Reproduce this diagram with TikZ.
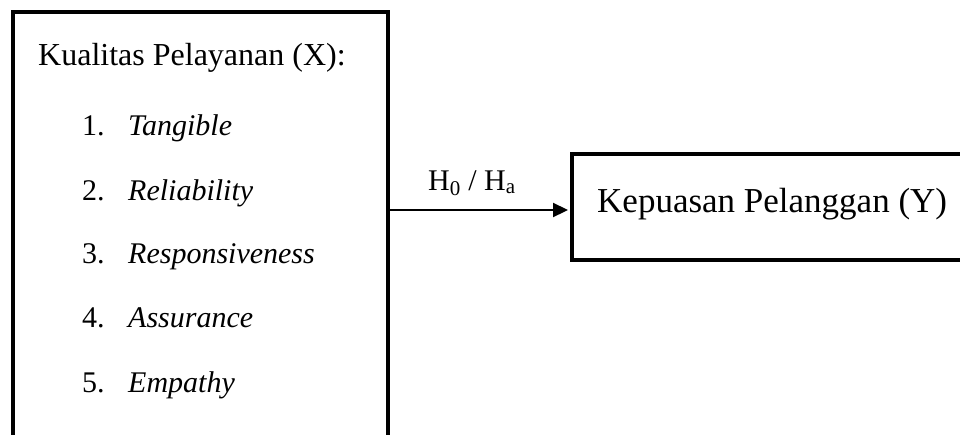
\documentclass[tikz,border=0pt]{standalone}
\usepackage{fontspec}
\setmainfont{Liberation Serif}
\usetikzlibrary{arrows.meta}
\tikzset{
  boxline/.style={draw=black, line width=4pt, fill=none},
  txt/.style={anchor=base west, inner sep=0pt, font=\fontsize{32}{36}\selectfont},
  itm/.style={txt, font=\fontsize{30}{34}\selectfont\itshape},
  num/.style={txt, font=\fontsize{30}{34}\selectfont},
  conn/.style={line width=2.2pt, -{Triangle[length=15pt,width=14pt]}}
}
\begin{document}
\begin{tikzpicture}[x=1pt,y=-1pt]
\useasboundingbox (0,0) rectangle (960,434);
\clip (0,0) rectangle (960,434);
\fill[white] (0,0) rectangle (960,434);
% left box (bottom cut off by the frame)
\node[boxline, minimum width=375pt, minimum height=480pt, anchor=north west, inner sep=0pt] (X) at (11,10) {};
% right box (right side cut off)
\node[boxline, minimum width=440pt, minimum height=106pt, anchor=north west, inner sep=0pt] (Y) at (570,152) {};
\node[txt] (xt) at (38,65) {Kualitas Pelayanan (X):};
\node[num] (n1) at (82,135) {1.};
\node[itm] (i1) at (128,135) {Tangible};
\node[num] (n2) at (82,200) {2.};
\node[itm] (i2) at (128,200) {Reliability};
\node[num] (n3) at (82,263) {3.};
\node[itm] (i3) at (128,263) {Responsiveness};
\node[num] (n4) at (82,327) {4.};
\node[itm] (i4) at (128,327) {Assurance};
\node[num] (n5) at (82,392) {5.};
\node[itm] (i5) at (128,392) {Empathy};
\node[txt, font=\fontsize{35}{38}\selectfont] (yt) at (597,212) {Kepuasan Pelanggan (Y)};
\coordinate (a1) at (386,210);
\coordinate (a2) at (568,210);
\draw[conn] (a1) -- (a2);
\node[txt, font=\fontsize{30}{34}\selectfont] (h) at (428,190) {H\textsubscript{0} / H\textsubscript{a}};
\end{tikzpicture}
\end{document}
